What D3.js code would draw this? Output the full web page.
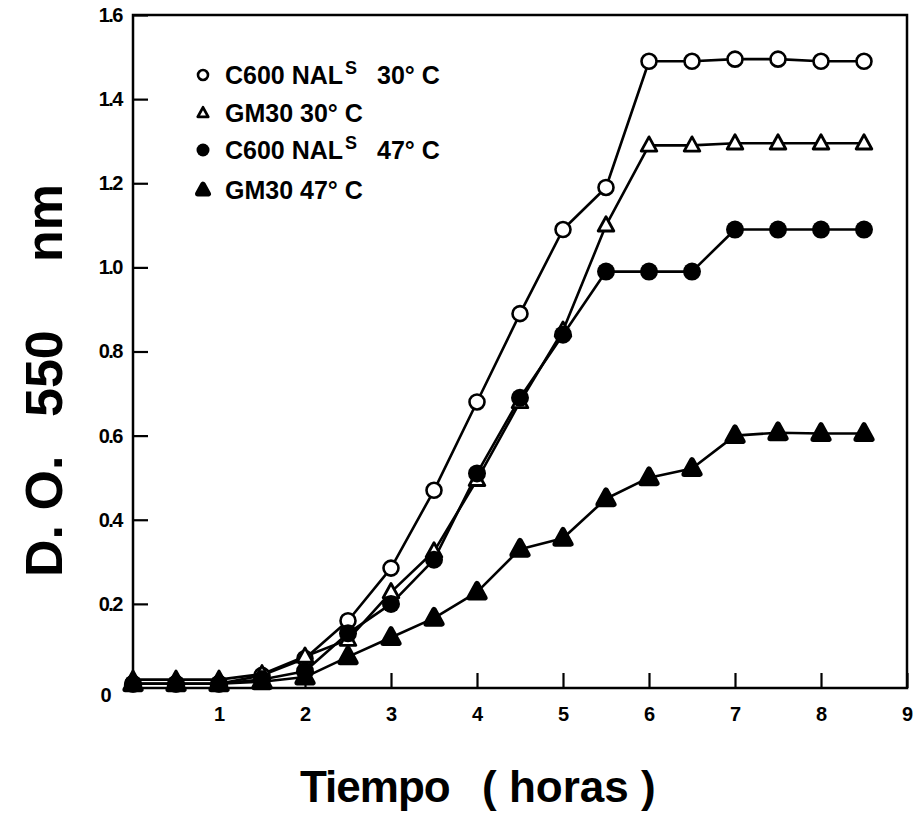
<!DOCTYPE html>
<html>
<head>
<meta charset="utf-8">
<script src="https://cdn.jsdelivr.net/npm/d3@7"></script>
<style>
  body { margin: 0; background: #fff; }
  text { font-family: "Liberation Sans", Arial, Helvetica, sans-serif; font-weight: bold; fill: #000; }
</style>
</head>
<body>
<svg id="chart" width="915" height="823"></svg>
<script>
// Sampling times (hours)
const hours = [0, 0.5, 1, 1.5, 2, 2.5, 3, 3.5, 4, 4.5, 5, 5.5, 6, 6.5, 7, 7.5, 8, 8.5];

// Optical density at 550 nm for each strain / temperature
const c600At30 = [0.01, 0.01, 0.01, 0.03, 0.07, 0.16, 0.285, 0.47, 0.68, 0.89, 1.09, 1.19, 1.49, 1.49, 1.495, 1.495, 1.49, 1.49];
const gm30At30 = [0.02, 0.02, 0.02, 0.033, 0.075, 0.115, 0.228, 0.325, 0.495, 0.68, 0.85, 1.10, 1.29, 1.29, 1.295, 1.295, 1.295, 1.295];
const c600At47 = [0.01, 0.01, 0.01, 0.02, 0.04, 0.13, 0.20, 0.305, 0.51, 0.69, 0.84, 0.99, 0.99, 0.99, 1.09, 1.09, 1.09, 1.09];
const gm30At47 = [0.01, 0.01, 0.01, 0.015, 0.026, 0.074, 0.12, 0.166, 0.228, 0.33, 0.356, 0.45, 0.50, 0.522, 0.60, 0.607, 0.605, 0.605];

// Axis ticks
const xTicks = [1, 2, 3, 4, 5, 6, 7, 8, 9];
const yTicks = [0, 0.2, 0.4, 0.6, 0.8, 1.0, 1.2, 1.4, 1.6];
const yTickLabels = ["0", "0.2", "0.4", "0.6", "0.8", "1.0", "1.2", "1.4", "1.6"];

// Legend entries: strain name, superscript, temperature
const legendStrains = ["C600 NAL", "GM30", "C600 NAL", "GM30"];
const legendSuper = ["S", "", "S", ""];
const legendTemps = ["30\u00B0 C", "30\u00B0 C", "47\u00B0 C", "47\u00B0 C"];
const markerKinds = ["openCircle", "openTriangle", "filledCircle", "filledTriangle"];

const series = [c600At30, gm30At30, c600At47, gm30At47];

const svg = d3.select("#chart");
const margin = { left: 133, right: 8, top: 15, bottom: 135 };
const W = 915, H = 823;

const x = d3.scaleLinear().domain([0, 9]).range([margin.left, W - margin.right]);
const y = d3.scaleLinear().domain([0, 1.6]).range([H - margin.bottom, margin.top]);

// Frame
svg.append("rect")
  .attr("x", x(0)).attr("y", y(1.6))
  .attr("width", x(9) - x(0)).attr("height", y(0) - y(1.6))
  .attr("fill", "none").attr("stroke", "#000").attr("stroke-width", 2.5);

// Axes with inward ticks
const yAxis = d3.axisLeft(y).tickValues(yTicks)
  .tickFormat((d, i) => yTickLabels[i])
  .tickSize(-15).tickSizeOuter(0).tickPadding(11);
const gy = svg.append("g").attr("transform", `translate(${x(0)},0)`).call(yAxis);
gy.select(".domain").remove();
gy.selectAll(".tick line").attr("stroke", "#000").attr("stroke-width", 2.2);
gy.selectAll(".tick text").style("font-size", "20px").attr("letter-spacing", "-1.5px");
gy.selectAll(".tick").filter(d => d === 0).select("text").attr("dx", "-12").attr("dy", "0.65em");
gy.selectAll(".tick").filter(d => d === 0).select("line").remove();

const xAxis = d3.axisBottom(x).tickValues(xTicks)
  .tickFormat(d3.format("d"))
  .tickSize(-15).tickSizeOuter(0).tickPadding(19);
const gx = svg.append("g").attr("transform", `translate(0,${y(0)})`).call(xAxis);
gx.select(".domain").remove();
gx.selectAll(".tick line").attr("stroke", "#000").attr("stroke-width", 2.2);
gx.selectAll(".tick text").style("font-size", "20px");

// Vertical axis title, written upward from the bottom
const yTitle = svg.append("text")
  .attr("transform", "translate(62,577) rotate(-90)")
  .style("font-size", "52px")
  .style("white-space", "pre");
yTitle.append("tspan").attr("x", 0).text("D. O.");
yTitle.append("tspan").attr("x", 160).text("550");
yTitle.append("tspan").attr("x", 315).text("nm");

// Horizontal axis title
const xTitle = svg.append("text")
  .attr("y", 802)
  .style("font-size", "44px")
  .style("white-space", "pre");
xTitle.append("tspan").attr("x", 300).attr("letter-spacing", "-1px").text("Tiempo");
xTitle.append("tspan").attr("x", 482).text("( horas )");

// Marker drawing
function drawMarker(g, kind, size) {
  const r = size;
  if (kind === "openCircle") {
    g.append("circle").attr("r", r).attr("fill", "#fff").attr("stroke", "#000").attr("stroke-width", 2.6);
  } else if (kind === "filledCircle") {
    g.append("circle").attr("r", r + 1.5).attr("fill", "#000");
  } else {
    const h = r * 1.9;
    const pts = [[0, -h * 0.6], [h * 0.55, h * 0.4], [-h * 0.55, h * 0.4]];
    const filled = kind === "filledTriangle";
    g.append("path")
      .attr("d", d3.line()(pts) + "Z")
      .attr("fill", filled ? "#000" : "#fff")
      .attr("stroke", "#000")
      .attr("stroke-width", filled ? 5.5 : 2.8)
      .attr("stroke-linejoin", "round");
  }
}

const line = d3.line().x(d => x(d[0])).y(d => y(d[1]));

series.forEach(vals => {
  svg.append("path")
    .datum(hours.map((h, i) => [h, vals[i]]))
    .attr("d", line)
    .attr("fill", "none").attr("stroke", "#000").attr("stroke-width", 2.6)
    .attr("stroke-linejoin", "round");
});

series.forEach((vals, si) => {
  svg.append("g").selectAll("g")
    .data(hours.map((h, i) => [h, vals[i]]))
    .join("g")
    .attr("transform", d => `translate(${x(d[0])},${y(d[1])})`)
    .each(function () { drawMarker(d3.select(this), markerKinds[si], 7.5); });
});

// Legend
const legend = svg.append("g");
const rowY = [75, 113, 150, 190];
legendStrains.forEach((s, i) => {
  const g = legend.append("g").attr("transform", `translate(203,${rowY[i]})`);
  drawMarker(g, markerKinds[i], 5);
  const t = g.append("text").attr("x", 22).attr("y", 9)
    .style("font-size", "25px")
    .style("white-space", "pre");
  t.append("tspan").text(s);
  if (legendSuper[i]) {
    t.append("tspan").attr("dx", 2).attr("dy", -10).style("font-size", "18px").text(legendSuper[i]);
    t.append("tspan").attr("x", 174).attr("dy", 10).text(legendTemps[i]);
  } else {
    t.append("tspan").text(" " + legendTemps[i]);
  }
});
</script>
</body>
</html>
